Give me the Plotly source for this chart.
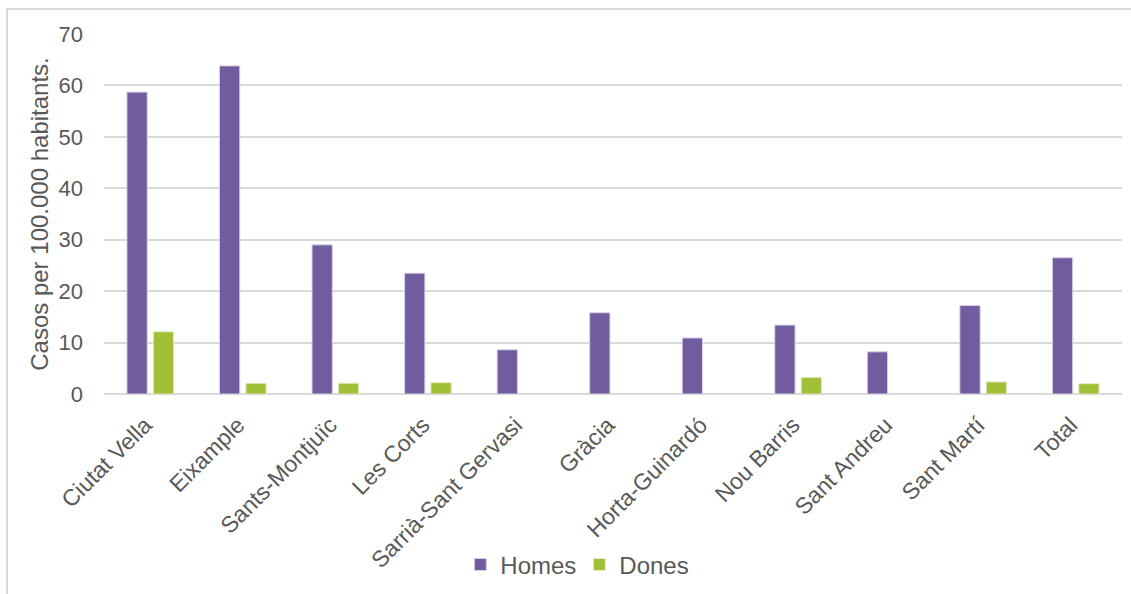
import plotly.graph_objects as go

# District-level rates per 100,000 inhabitants
districtes = ["Ciutat Vella", "Eixample", "Sants-Montjuïc", "Les Corts",
              "Sarrià-Sant Gervasi", "Gràcia", "Horta-Guinardó", "Nou Barris",
              "Sant Andreu", "Sant Martí", "Total"]
homes = [58.7, 63.8, 29.0, 23.5, 8.6, 15.8, 10.9, 13.4, 8.2, 17.2, 26.5]
dones = [12.1, 2.1, 2.1, 2.2, 0, 0, 0, 3.25, 0, 2.35, 2.0]
y_ticks = [0, 10, 20, 30, 40, 50, 60, 70]

COL_HOMES = "#715C9F"
COL_DONES = "#A1BF37"
TXT = "#595959"
GRID = "#D9D9D9"
FONT = "Liberation Sans, Arial, sans-serif"


def outline(values):
    # thin light edge on non-empty bars only
    return [1 if v > 0 else 0 for v in values]


fig = go.Figure()
fig.add_trace(go.Bar(name="Homes", x=districtes, y=homes,
                     marker=dict(color=COL_HOMES,
                                 line=dict(color="#D8D2E6", width=outline(homes)))))
fig.add_trace(go.Bar(name="Dones", x=districtes, y=dones,
                     marker=dict(color=COL_DONES,
                                 line=dict(color="#E3EEC4", width=outline(dones)))))

W, H = 1131, 594
ml, mr, mt, mb = 104, 9, 34, 200
pw, ph = W - ml - mr, H - mt - mb

fig.update_layout(
    width=W, height=H,
    margin=dict(l=ml, r=mr, t=mt, b=mb, autoexpand=False),
    paper_bgcolor="white", plot_bgcolor="white",
    barmode="group", bargap=0.43, bargroupgap=0.23,
    font=dict(family=FONT, color=TXT, size=22),
    showlegend=True,
    legend=dict(orientation="h", xref="container", yref="container",
                x=0.407, xanchor="left", y=0.049, yanchor="middle",
                font=dict(size=24, color=TXT), itemwidth=30,
                entrywidth=74, entrywidthmode="pixels",
                bgcolor="rgba(0,0,0,0)", traceorder="normal"),
    xaxis=dict(tickangle=-45, tickfont=dict(size=23, color=TXT), automargin=False,
               showgrid=False, showline=False, ticks="",
               ticklabelstandoff=12, ticklabelshift=-5),
    yaxis=dict(range=[0, 70], tickvals=y_ticks, showgrid=True, gridcolor=GRID,
               gridwidth=2, zeroline=True, zerolinecolor=GRID, zerolinewidth=2,
               ticks="", tickfont=dict(size=22, color=TXT), ticklabelstandoff=20,
               automargin=False,
               title=dict(text="Casos per 100.000 habitants.",
                          font=dict(size=24, color=TXT), standoff=3)),
)

# Chart-area frame (left and top edges visible)
x0 = (7 - ml) / pw
y1 = (H - mb - 9) / ph
fig.add_shape(type="rect", xref="paper", yref="paper",
              x0=x0, x1=(W + 20 - ml) / pw, y0=-(mb + 20) / ph, y1=y1,
              line=dict(color=GRID, width=2), fillcolor="rgba(0,0,0,0)", layer="below")

fig.write_html("out.html")
